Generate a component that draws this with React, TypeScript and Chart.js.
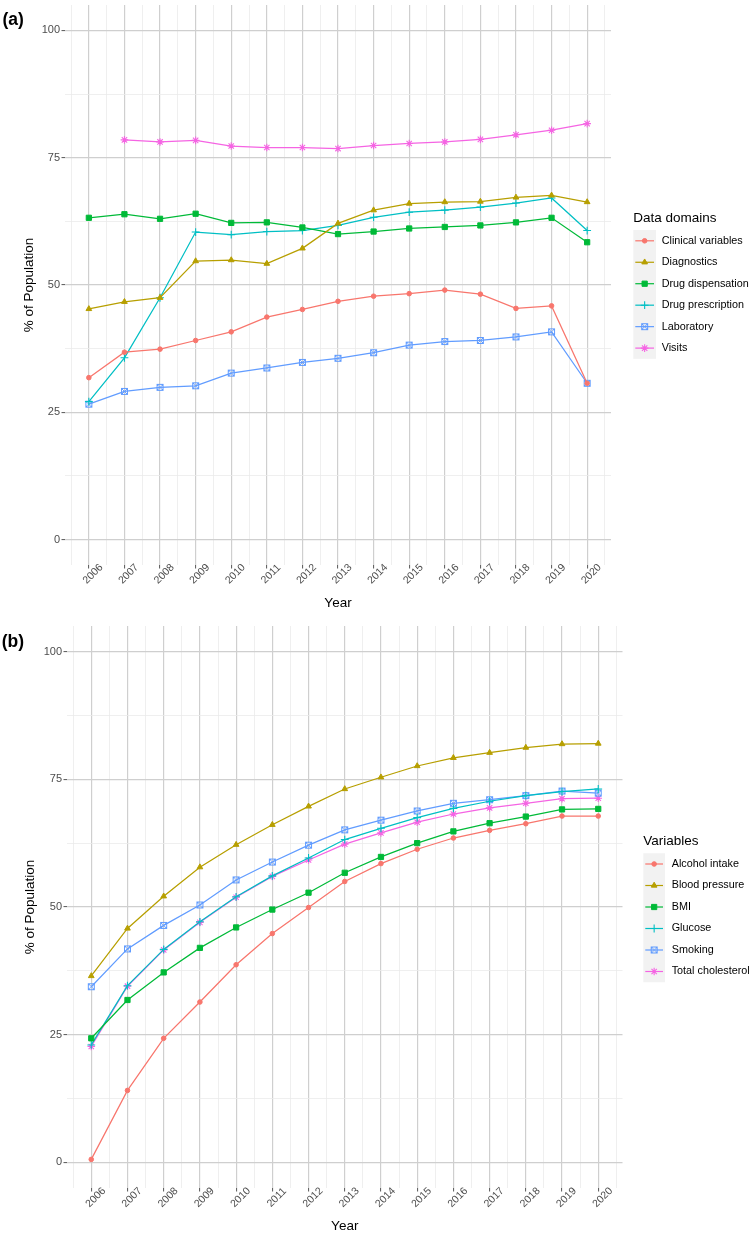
import React, { useEffect, useRef } from 'react';
import { Chart, registerables } from 'chart.js';
import { drawPoint } from 'chart.js/helpers';

Chart.register(...registerables);

// ---------- data ----------
const years = [2006, 2007, 2008, 2009, 2010, 2011, 2012, 2013, 2014, 2015, 2016, 2017, 2018, 2019, 2020];
const yearLabels = ['2006', '2007', '2008', '2009', '2010', '2011', '2012', '2013', '2014', '2015', '2016', '2017', '2018', '2019', '2020'];
const yMajorTicks = [0, 25, 50, 75, 100];
const yMinorTicks = [12.5, 37.5, 62.5, 87.5];

// Panel (a) – Data domains
const clinicalVariables = [31.8, 36.8, 37.4, 39.1, 40.8, 43.7, 45.2, 46.8, 47.8, 48.3, 49.0, 48.2, 45.4, 45.9, 30.7];
const diagnostics = [45.3, 46.7, 47.5, 54.7, 54.9, 54.2, 57.2, 62.1, 64.7, 66.0, 66.3, 66.4, 67.2, 67.6, 66.3];
const drugDispensation = [63.2, 63.9, 63.0, 64.0, 62.2, 62.3, 61.3, 60.0, 60.5, 61.1, 61.4, 61.7, 62.3, 63.2, 58.4];
const drugPrescription = [27.1, 35.7, 47.5, 60.4, 59.9, 60.5, 60.7, 61.7, 63.3, 64.3, 64.7, 65.3, 66.1, 67.1, 60.7];
const laboratory = [26.6, 29.1, 29.9, 30.2, 32.7, 33.7, 34.8, 35.6, 36.7, 38.2, 38.9, 39.1, 39.8, 40.8, 30.7];
const visits = [null, 78.5, 78.1, 78.4, 77.3, 77.0, 77.0, 76.8, 77.4, 77.8, 78.1, 78.6, 79.5, 80.4, 81.7];

// Panel (b) – Variables
const alcoholIntake = [0.6, 14.1, 24.3, 31.4, 38.7, 44.8, 49.9, 55.0, 58.5, 61.3, 63.5, 65.0, 66.3, 67.8, 67.8];
const bloodPressure = [36.5, 45.8, 52.1, 57.8, 62.2, 66.1, 69.7, 73.1, 75.4, 77.6, 79.2, 80.2, 81.2, 81.9, 82.0];
const bmi = [24.3, 31.8, 37.2, 42.0, 46.0, 49.5, 52.8, 56.7, 59.8, 62.5, 64.8, 66.4, 67.7, 69.1, 69.2];
const glucose = [23.0, 34.6, 41.7, 47.1, 52.0, 56.1, 59.6, 63.2, 65.4, 67.5, 69.3, 70.7, 71.8, 72.6, 73.1];
const smoking = [34.4, 41.8, 46.4, 50.4, 55.3, 58.8, 62.1, 65.1, 67.0, 68.8, 70.3, 71.0, 71.8, 72.7, 72.3];
const totalCholesterol = [22.7, 34.5, 41.6, 47.0, 51.9, 56.0, 59.2, 62.3, 64.5, 66.6, 68.2, 69.4, 70.3, 71.2, 71.3];

// ---------- styling ----------
const FONT = '"Liberation Sans", Arial, Helvetica, sans-serif';
const COLORS = ['#F8766D', '#B79F00', '#00BA38', '#00BFC4', '#619CFF', '#F564E3'];
const MAJOR_GRID = '#cfcfcf';
const MINOR_GRID = '#ebebeb';
const TICK_COLOR = '#555555';

const xGridValues: number[] = [];
years.forEach((y) => {
  xGridValues.push(y - 0.5, y);
});
xGridValues.push(years[years.length - 1] + 0.5);
const yGridValues = [...yMajorTicks, ...yMinorTicks].sort((a, b) => a - b);

function makeSquareCross(color: string) {
  const c = document.createElement('canvas');
  c.width = 9;
  c.height = 9;
  const g = c.getContext('2d')!;
  g.strokeStyle = color;
  g.lineWidth = 1;
  g.strokeRect(1.5, 1.5, 6, 6);
  g.beginPath();
  g.moveTo(1.5, 1.5);
  g.lineTo(7.5, 7.5);
  g.moveTo(7.5, 1.5);
  g.lineTo(1.5, 7.5);
  g.stroke();
  return c;
}

function shapeFor(i: number, color: string) {
  switch (i) {
    case 0: return { style: 'circle', radius: 2.3, bw: 1 };
    case 1: return { style: 'triangle', radius: 3.3, bw: 1 };
    case 2: return { style: 'rect', radius: 3.7, bw: 1 };
    case 3: return { style: 'cross', radius: 3.9, bw: 1.1 };
    case 4: return { style: makeSquareCross(color), radius: 3, bw: 1 };
    default: return { style: 'star', radius: 3.8, bw: 1.1 };
  }
}

function buildDatasets(labels: string[], series: (number | null)[][]) {
  return series.map((vals, i) => {
    const color = COLORS[i];
    const sh = shapeFor(i, color);
    return {
      label: labels[i],
      data: vals.map((v, j) => ({ x: years[j], y: v })),
      borderColor: color,
      backgroundColor: color,
      borderWidth: 1.25,
      pointStyle: sh.style as any,
      pointRadius: sh.radius,
      pointHoverRadius: sh.radius,
      pointBorderWidth: sh.bw,
      pointBackgroundColor: color,
      pointBorderColor: color,
      tension: 0,
      spanGaps: false,
    };
  });
}

const overlayPlugin = {
  id: 'overlay',
  afterDraw(chart: any, _args: any, opts: any) {
    const ctx = chart.ctx as CanvasRenderingContext2D;
    const xs = chart.scales.x;
    const bottom = chart.chartArea.bottom;
    ctx.save();
    // x tick labels
    ctx.font = `10.5px ${FONT}`;
    ctx.fillStyle = '#4d4d4d';
    ctx.textAlign = 'center';
    ctx.textBaseline = 'middle';
    years.forEach((yr, i) => {
      const px = xs.getPixelForValue(yr);
      ctx.save();
      ctx.translate(px + opts.labelDx, bottom + opts.labelDy);
      ctx.rotate(-Math.PI / 4);
      ctx.fillText(yearLabels[i], 0, 0);
      ctx.restore();
    });
    // panel tag
    ctx.font = `bold 17.5px ${FONT}`;
    ctx.fillStyle = '#000';
    ctx.textAlign = 'left';
    ctx.fillText(opts.tag, opts.tagX, opts.tagY);
    // legend
    const L = opts.legend;
    const n = chart.data.datasets.length;
    ctx.font = `13.5px ${FONT}`;
    ctx.fillStyle = '#000';
    ctx.fillText(L.title, L.titleX, L.titleY);
    ctx.fillStyle = '#f2f2f2';
    ctx.fillRect(L.keyX, L.firstY - L.step / 2, L.keyW, L.step * n);
    chart.data.datasets.forEach((ds: any, i: number) => {
      const y = L.firstY + i * L.step;
      ctx.strokeStyle = ds.borderColor;
      ctx.lineWidth = 1.2;
      ctx.beginPath();
      ctx.moveTo(L.keyX + 2, y);
      ctx.lineTo(L.keyX + L.keyW - 2, y);
      ctx.stroke();
      ctx.fillStyle = ds.pointBackgroundColor;
      ctx.strokeStyle = ds.pointBorderColor;
      ctx.lineWidth = ds.pointBorderWidth;
      drawPoint(ctx, { pointStyle: ds.pointStyle, rotation: 0, radius: ds.pointRadius, borderWidth: ds.pointBorderWidth } as any, L.keyX + L.keyW / 2, y);
      ctx.font = `10.8px ${FONT}`;
      ctx.fillStyle = '#000';
      ctx.textAlign = 'left';
      ctx.textBaseline = 'middle';
      ctx.fillText(ds.label, L.textX, y);
    });
    ctx.restore();
  },
};

function makeConfig(cfg: any, datasets: any[]) {
  const isMajorY = (v: number) => yMajorTicks.includes(v);
  const isMajorX = (v: number) => Number.isInteger(v);
  return {
    type: 'line' as const,
    data: { datasets },
    plugins: [overlayPlugin],
    options: {
      animation: false,
      responsive: false,
      maintainAspectRatio: false,
      events: [],
      layout: { padding: { top: cfg.top, right: cfg.right, bottom: 0, left: 0 } },
      plugins: {
        legend: { display: false },
        tooltip: { enabled: false },
        overlay: {
          labelDx: cfg.labelDx,
          labelDy: cfg.labelDy,
          tag: cfg.tag,
          tagX: cfg.tagX,
          tagY: cfg.tagY,
          legend: cfg.legend,
        },
      },
      scales: {
        x: {
          type: 'linear',
          min: 2005.33,
          max: 2020.67,
          afterBuildTicks: (s: any) => {
            s.ticks = xGridValues.map((v) => ({ value: v }));
          },
          afterFit: (s: any) => {
            s.height = cfg.xHeight;
            s.paddingLeft = 0;
            s.paddingRight = 0;
          },
          ticks: { display: false, autoSkip: false },
          grid: {
            color: (c: any) => (isMajorX(c.tick.value) ? MAJOR_GRID : MINOR_GRID),
            lineWidth: (c: any) => (isMajorX(c.tick.value) ? 1.2 : 0.8),
            tickColor: (c: any) => (isMajorX(c.tick.value) ? TICK_COLOR : 'rgba(0,0,0,0)'),
            tickLength: 3.5,
            tickWidth: 1,
          },
          border: { display: false },
          title: {
            display: true,
            text: 'Year',
            color: '#000',
            font: { family: FONT, size: 13.5 },
            padding: { top: 0, bottom: cfg.xTitlePad },
          },
        },
        y: {
          type: 'linear',
          min: -5,
          max: 105,
          afterBuildTicks: (s: any) => {
            s.ticks = yGridValues.map((v) => ({ value: v }));
          },
          afterFit: (s: any) => {
            s.width = cfg.yWidth;
            s.paddingTop = 0;
            s.paddingBottom = 0;
          },
          ticks: {
            autoSkip: false,
            color: '#4d4d4d',
            font: { family: FONT, size: 11 },
            padding: 1.5,
            callback: (v: any) => (isMajorY(v) ? String(v) : ''),
          },
          grid: {
            color: (c: any) => (isMajorY(c.tick.value) ? MAJOR_GRID : MINOR_GRID),
            lineWidth: (c: any) => (isMajorY(c.tick.value) ? 1.2 : 0.8),
            tickColor: (c: any) => (isMajorY(c.tick.value) ? TICK_COLOR : 'rgba(0,0,0,0)'),
            tickLength: 3.5,
            tickWidth: 1,
          },
          border: { display: false },
          title: {
            display: true,
            text: '% of Population',
            color: '#000',
            font: { family: FONT, size: 13.5 },
            padding: { top: cfg.yTitlePad, bottom: 0 },
          },
        },
      },
    },
  };
}

const domainLabels = ['Clinical variables', 'Diagnostics', 'Drug dispensation', 'Drug prescription', 'Laboratory', 'Visits'];
const variableLabels = ['Alcohol intake', 'Blood pressure', 'BMI', 'Glucose', 'Smoking', 'Total cholesterol'];

export default function App() {
  const refA = useRef<HTMLCanvasElement>(null);
  const refB = useRef<HTMLCanvasElement>(null);

  useEffect(() => {
    const dsA = buildDatasets(domainLabels, [clinicalVariables, diagnostics, drugDispensation, drugPrescription, laboratory, visits]);
    const dsB = buildDatasets(variableLabels, [alcoholIntake, bloodPressure, bmi, glucose, smoking, totalCholesterol]);

    const chartA = new Chart(
      refA.current!,
      makeConfig(
        {
          top: 2, right: 143, xHeight: 52, yWidth: 65, xTitlePad: 5.5, yTitlePad: 21,
          labelDx: 4.2, labelDy: 9, tag: '(a)', tagX: 2.5, tagY: 20,
          legend: { title: 'Data domains', titleX: 633.3, titleY: 218, keyX: 633.3, keyW: 22.7, firstY: 240.8, step: 21.46, textX: 661.7 },
        },
        dsA
      ) as any
    );
    const chartB = new Chart(
      refB.current!,
      makeConfig(
        {
          top: 9, right: 131.5, xHeight: 46, yWidth: 67, xTitlePad: 0, yTitlePad: 22,
          labelDx: 4.5, labelDy: 9.5, tag: '(b)', tagX: 1.7, tagY: 24.8,
          legend: { title: 'Variables', titleX: 643.3, titleY: 224.3, keyX: 643.3, keyW: 21.7, firstY: 247, step: 21.5, textX: 671.7 },
        },
        dsB
      ) as any
    );
    return () => {
      chartA.destroy();
      chartB.destroy();
    };
  }, []);

  return (
    <div style={{ position: 'absolute', left: 0, top: 0, width: 754, height: 1234, background: '#fff' }}>
      <canvas ref={refA} width={754} height={617} style={{ position: 'absolute', left: 0, top: 0 }} />
      <canvas ref={refB} width={754} height={617} style={{ position: 'absolute', left: 0, top: 617 }} />
    </div>
  );
}
